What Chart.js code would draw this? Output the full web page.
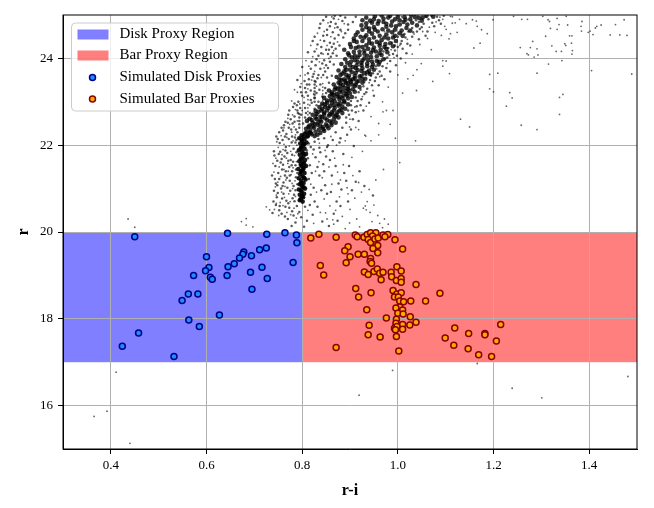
<!DOCTYPE html>
<html lang="en">
<head>
<meta charset="UTF-8">
<title>r vs r-i</title>
<script src="https://cdn.jsdelivr.net/npm/chart.js"></script>
<style>
  body { margin: 0; background: #fff; }
  #wrap { width: 654px; height: 508px; }
</style>
</head>
<body>
<div id="wrap"><canvas id="cmd" width="654" height="508"></canvas></div>
<script>
// axis ticks
var xTicks = [0.4, 0.6, 0.8, 1.0, 1.2, 1.4];
var yTicks = [16, 18, 20, 22, 24];

// proxy regions (r-i from/to, r from/to)
var regionLabels = ['Disk Proxy Region', 'Bar Proxy Region'];
var regionRI = [[0.3, 0.8], [0.8, 1.5]];
var regionR = [[17, 20], [17, 20]];

// simulated disk proxies
var diskRI = [0.450,0.644,0.726,0.764,0.788,0.789,0.600,0.678,0.676,0.669,0.694,0.711,0.725,0.658,0.645,0.605,0.598,0.573,0.643,0.692,0.716,0.781,0.608,0.612,0.727,0.695,0.562,0.582,0.549,0.627,0.563,0.585,0.458,0.424,0.532];
var diskR = [19.89,19.97,19.95,19.98,19.93,19.75,19.43,19.54,19.49,19.40,19.45,19.59,19.63,19.27,19.20,19.18,19.11,19.00,19.00,19.07,19.19,19.30,18.96,18.91,18.93,18.68,18.57,18.57,18.42,18.09,17.97,17.82,17.67,17.37,17.13];

// simulated bar proxies
var barRI = [0.818,0.835,0.871,0.911,0.915,0.929,0.936,0.943,0.954,0.947,0.938,0.943,0.952,0.959,0.969,0.979,0.973,0.994,0.958,0.948,0.896,0.889,0.958,1.010,0.900,0.917,0.930,0.943,0.942,0.945,0.892,0.838,0.845,0.930,0.938,0.950,0.957,0.962,0.969,0.965,0.986,0.987,0.998,1.007,0.997,1.007,1.007,1.038,0.912,0.944,0.918,0.990,0.998,1.007,0.993,1.001,1.004,1.012,1.027,1.058,1.088,1.004,0.996,1.010,1.000,1.011,1.026,0.935,0.976,0.997,0.996,1.038,1.025,1.010,0.940,0.993,0.998,1.010,0.995,0.938,0.963,0.997,0.871,1.002,1.119,1.099,1.148,1.182,1.182,1.215,1.206,1.117,1.147,1.169,1.196];
var barR = [19.86,19.95,19.88,19.93,19.89,19.88,19.94,19.98,19.98,19.91,19.83,19.76,19.84,19.86,19.93,19.94,19.89,19.82,19.69,19.62,19.66,19.57,19.52,19.61,19.43,19.49,19.49,19.39,19.32,19.28,19.29,19.23,19.01,19.08,19.02,19.09,19.15,19.05,19.07,18.90,19.07,18.97,19.20,19.10,18.88,18.93,18.84,18.79,18.70,18.60,18.50,18.65,18.57,18.60,18.50,18.50,18.41,18.39,18.41,18.41,18.59,18.27,18.25,18.20,18.13,18.11,18.05,18.21,18.02,17.99,17.90,17.92,17.86,17.87,17.85,17.78,17.82,17.76,17.75,17.63,17.58,17.59,17.34,17.26,17.79,17.56,17.66,17.66,17.63,17.87,17.49,17.39,17.31,17.17,17.13];

// observed stars: the narrow vertical core near r-i = 0.8
var bgCore = [[0.797,20.76],[0.802,20.80],[0.795,20.86],[0.804,20.88],[0.799,20.93],[0.793,20.98],[0.806,21.00],[0.800,21.05],[0.795,21.10],[0.803,21.13],[0.798,21.18],[0.807,21.21],[0.793,21.24],[0.801,21.28],[0.796,21.33],[0.805,21.36],[0.799,21.41],[0.792,21.45],[0.803,21.48],[0.808,21.52],[0.797,21.55],[0.801,21.60],[0.794,21.63],[0.806,21.66],[0.799,21.70],[0.803,21.75],[0.795,21.78],[0.808,21.80],[0.800,21.85],[0.793,21.88],[0.805,21.92],[0.798,21.95],[0.802,22.00],[0.796,22.04],[0.809,22.06],[0.800,22.10],[0.805,22.14],[0.794,22.16],[0.811,22.20],[0.799,22.23],[0.806,22.27],[0.815,22.29],
[0.800,20.83],[0.797,20.96],[0.803,21.03],[0.798,21.12],[0.804,21.25],[0.797,21.38],[0.802,21.44],[0.799,21.52],[0.804,21.58],[0.797,21.68],[0.802,21.81],[0.797,21.92],[0.804,22.03],[0.799,22.13],[0.803,22.20],[0.795,20.73],[0.801,20.70]];

// observed stars: the dense diagonal band
var bgBand = [
[0.812,22.22],[0.820,22.25],[0.828,22.31],[0.817,22.35],[0.835,22.36],[0.808,22.38],[0.825,22.40],[0.843,22.42],[0.815,22.45],[0.832,22.47],[0.850,22.48],[0.822,22.52],[0.840,22.54],[0.858,22.55],[0.810,22.56],[0.830,22.60],[0.848,22.62],[0.866,22.60],
[0.838,22.66],[0.856,22.68],[0.822,22.70],[0.846,22.72],[0.872,22.70],[0.862,22.76],[0.834,22.77],[0.852,22.80],[0.878,22.80],[0.842,22.84],[0.868,22.86],[0.858,22.90],[0.884,22.89],[0.848,22.94],[0.874,22.95],[0.862,22.98],[0.888,22.99],
[0.852,23.03],[0.878,23.05],[0.866,23.08],[0.896,23.08],[0.858,23.13],[0.886,23.14],[0.872,23.18],[0.900,23.19],[0.862,23.22],[0.892,23.24],[0.880,23.28],[0.906,23.29],[0.870,23.33],[0.896,23.35],[0.886,23.39],[0.912,23.40],[0.876,23.44],[0.902,23.46],[0.918,23.48],
[0.888,23.52],[0.910,23.54],[0.872,23.57],[0.898,23.60],[0.924,23.60],[0.884,23.65],[0.912,23.67],[0.936,23.68],[0.876,23.72],[0.900,23.74],[0.926,23.77],[0.890,23.80],[0.946,23.80],[0.914,23.84],[0.882,23.87],[0.936,23.88],[0.902,23.92],[0.926,23.95],[0.956,23.94],[0.890,23.98],
[0.916,24.02],[0.944,24.03],[0.898,24.07],[0.966,24.08],[0.930,24.11],[0.908,24.15],[0.954,24.16],[0.888,24.20],[0.938,24.22],[0.976,24.22],[0.918,24.27],[0.962,24.29],[0.900,24.33],[0.946,24.34],[0.984,24.35],[0.926,24.40],[0.966,24.42],[0.908,24.46],[0.950,24.48],[0.990,24.48],
[0.934,24.53],[0.976,24.55],[1.004,24.58],[0.916,24.60],[0.958,24.62],[0.994,24.66],[0.940,24.69],[1.018,24.70],[0.976,24.73],[0.924,24.76],[1.004,24.78],[0.958,24.80],[1.030,24.82],[0.988,24.85],[0.942,24.87],[1.016,24.89],[0.970,24.92],[1.044,24.93],[1.000,24.96],[0.952,24.97],[1.060,24.98],[1.028,24.99],
[0.826,22.21],[0.838,22.28],[0.809,22.30],[0.846,22.33],[0.855,22.39],[0.813,22.42],[0.838,22.44],[0.861,22.46],[0.826,22.49],[0.870,22.52],[0.816,22.61],[0.838,22.58],[0.876,22.64],[0.828,22.64],[0.864,22.70],[0.846,22.75],[0.884,22.74],[0.828,22.79],[0.866,22.80],[0.855,22.86],[0.890,22.84],[0.836,22.88],[0.876,22.91],[0.896,22.94],[0.852,22.98],
[0.868,23.01],[0.888,23.02],[0.846,23.09],[0.904,23.11],[0.878,23.12],[0.866,23.16],[0.892,23.18],[0.910,23.23],[0.856,23.26],[0.884,23.23],[0.868,23.28],[0.896,23.30],[0.920,23.34],[0.880,23.36],[0.904,23.40],[0.866,23.40],[0.892,23.44],[0.926,23.44],[0.882,23.50],[0.900,23.50],[0.932,23.53],[0.896,23.56],[0.920,23.58],[0.880,23.62],[0.942,23.64],[0.904,23.68],[0.924,23.71],[0.892,23.74],[0.950,23.74],[0.912,23.78],[0.936,23.82],[0.900,23.84],[0.960,23.86],[0.924,23.90],[0.946,23.93],[0.910,23.96],[0.970,23.98],
[0.930,24.00],[0.904,24.02],[0.956,24.05],[0.920,24.08],[0.944,24.13],[0.978,24.14],[0.896,24.12],[0.930,24.18],[0.964,24.20],[0.912,24.24],[0.950,24.25],[0.990,24.28],[0.934,24.30],[0.974,24.33],[0.914,24.38],[0.956,24.38],[0.996,24.40],[0.940,24.44],[0.980,24.46],[0.922,24.50],[0.962,24.52],[1.010,24.52],[0.946,24.57],[0.988,24.60],[0.926,24.66],[0.968,24.67],[1.026,24.64],[0.950,24.72],[0.996,24.74],[1.040,24.76],[0.934,24.81],[0.976,24.80],[1.012,24.84],[0.960,24.86],[1.050,24.87],[0.994,24.90],[0.934,24.94],[0.984,24.98],[1.036,24.95],[1.074,24.96],[0.966,24.99],[1.014,24.95],
[0.818,22.28],[0.832,22.24],[0.844,22.37],[0.822,22.43],[0.852,22.44],[0.834,22.53],[0.862,22.52],[0.820,22.58],[0.852,22.58],[0.842,22.65],[0.870,22.66],[0.830,22.72],[0.858,22.72],[0.840,22.80],[0.874,22.76],[0.848,22.88],[0.882,22.82],[0.866,22.92],[0.842,22.96],[0.880,22.96],
[0.860,23.04],[0.884,23.08],[0.874,23.12],[0.894,23.14],[0.862,23.18],[0.878,23.22],[0.898,23.26],[0.874,23.30],[0.888,23.32],[0.910,23.36],[0.880,23.42],[0.896,23.42],[0.914,23.46],[0.890,23.48],[0.906,23.52],[0.878,23.52],[0.926,23.52],[0.892,23.62],[0.910,23.60],[0.930,23.66],[0.888,23.70],[0.916,23.73],[0.940,23.72],[0.906,23.80],[0.924,23.84],[0.948,23.86],[0.894,23.90],[0.916,23.92],[0.938,23.96],[0.962,23.92],
[0.910,24.06],[0.936,24.06],[0.962,24.12],[0.920,24.16],[0.948,24.19],[0.902,24.26],[0.926,24.26],[0.972,24.26],[0.940,24.36],[0.962,24.35],[0.908,24.40],[0.930,24.48],[0.972,24.48],[0.994,24.52],[0.912,24.54],[0.940,24.62],[0.980,24.64],[1.008,24.64],[0.952,24.66],[0.934,24.72],[0.986,24.76],[1.020,24.78],[0.946,24.82],[0.970,24.84],[1.026,24.90],[0.950,24.90],[1.004,24.88],[0.926,24.88],[1.052,24.94],[0.980,24.94]
];

// observed stars: medium-density halo around the band and the core
var bgHalo = [
[0.738,20.44],[0.745,20.62],[0.752,20.50],[0.758,20.77],[0.765,20.58],[0.771,20.66],[0.779,20.48],[0.784,20.71],[0.789,20.60],[0.741,20.95],[0.748,21.08],[0.756,21.00],[0.761,21.14],[0.769,21.02],[0.774,21.18],[0.782,21.06],[0.787,21.26],[0.743,21.22],[0.750,21.36],[0.758,21.44],[0.764,21.30],[0.773,21.50],[0.779,21.40],[0.786,21.54],[0.790,21.36],[0.744,21.52],[0.748,21.64],[0.755,21.60],[0.763,21.74],[0.769,21.82],[0.776,21.66],[0.782,21.92],[0.788,21.84],[0.741,21.86],[0.753,22.05],[0.759,22.12],[0.766,21.96],[0.772,22.14],[0.778,22.06],[0.785,22.18],[0.790,22.30],[0.752,22.30],[0.760,22.34],[0.767,22.26],[0.772,22.40],[0.780,22.50],[0.787,22.36],[0.765,22.54],[0.776,22.60],[0.784,22.66],[0.791,22.74],[0.773,22.80],[0.781,22.88],[0.789,22.92],[0.764,20.36],[0.770,20.30],[0.782,20.38],[0.757,20.42],[0.749,20.90],[0.737,21.30],[0.760,21.55],[0.768,21.25],[0.775,20.95],[0.783,20.86],[0.790,21.10],[0.754,21.85],[0.746,22.20],[0.762,22.46],[0.771,22.70],[0.779,22.20],
[0.740,20.70],[0.747,20.80],[0.753,20.60],[0.761,20.88],[0.767,20.72],[0.773,20.56],[0.780,20.78],[0.786,20.96],[0.745,21.12],[0.752,21.22],[0.759,21.06],[0.766,21.40],[0.774,21.30],[0.781,21.62],[0.787,21.44],[0.742,21.76],[0.751,21.80],[0.757,21.68],[0.765,21.88],[0.771,21.64],[0.779,21.78],[0.786,22.06],[0.749,22.14],[0.757,22.40],[0.764,22.20],[0.770,22.52],[0.777,22.36],[0.784,22.54],[0.788,22.12],[0.778,21.54],
[0.792,23.00],[0.800,23.14],[0.808,23.22],[0.796,23.34],[0.805,23.48],[0.815,23.40],[0.822,23.58],[0.812,23.66],[0.828,23.46],[0.834,23.62],[0.818,23.76],[0.828,23.84],[0.838,23.76],[0.846,23.96],[0.834,24.06],[0.826,24.16],[0.840,24.26],[0.850,24.20],[0.846,24.40],[0.858,24.36],[0.852,24.54],[0.864,24.60],[0.858,24.74],[0.870,24.80],[0.866,24.92],[0.880,24.98],[0.890,24.94],[0.884,24.86],[0.896,24.78],[0.876,24.54],[0.868,24.46],[0.862,24.26],[0.854,24.10],[0.848,23.70],[0.836,23.28],[0.826,23.10],[0.820,22.98],[0.806,22.86],[0.798,22.70],[0.806,22.64],[0.816,22.74],[0.826,22.84],[0.834,23.00],[0.850,23.20],[0.856,23.44],[0.862,23.60],[0.866,23.86],[0.872,24.06],[0.878,24.30],[0.886,24.48],[0.896,24.66],[0.906,24.84],[0.912,24.96],[0.800,23.80],[0.812,24.14],[0.822,24.40],[0.836,24.70],[0.844,24.88],[0.790,23.50],[0.784,22.96],[0.802,22.50],[0.818,22.48],[0.830,22.70],[0.842,23.12],[0.852,23.56],[0.858,23.92],[0.864,24.12],
[0.796,22.86],[0.804,22.98],[0.812,23.14],[0.818,23.26],[0.806,23.32],[0.814,23.52],[0.824,23.64],[0.832,23.54],[0.838,23.40],[0.830,23.20],[0.818,23.04],[0.808,22.74],[0.790,22.80],[0.798,23.22],[0.810,23.40],[0.820,23.92],[0.830,23.98],[0.840,24.12],[0.832,24.32],[0.844,24.52],[0.852,24.66],[0.860,24.84],[0.868,24.98],[0.874,24.72],[0.866,24.34],[0.856,24.20],[0.850,23.84],[0.842,23.88],[0.826,24.50],[0.838,24.80],[0.850,24.96],[0.880,24.66],[0.890,24.58],[0.870,24.22],[0.860,24.04],[0.854,23.78],[0.844,23.62],[0.848,23.32],[0.840,22.92],[0.830,22.92],
[0.826,23.00],[0.826,23.08],[0.826,23.16],[0.826,23.24],[0.826,23.32],[0.826,23.40],[0.826,23.48],[0.794,22.40],[0.794,22.48],[0.794,22.56],[0.794,22.64],[0.794,22.72],
[0.884,22.40],[0.892,22.52],[0.898,22.70],[0.906,22.60],[0.912,22.76],[0.902,22.92],[0.916,23.02],[0.922,22.92],[0.930,23.18],[0.918,23.22],[0.928,23.36],[0.936,23.30],[0.942,23.50],[0.934,23.62],[0.948,23.66],[0.954,23.56],[0.962,23.70],[0.968,23.82],[0.958,23.94],[0.974,24.00],[0.982,24.08],[0.970,24.16],[0.994,24.18],[1.000,24.26],[0.988,24.36],[1.008,24.40],[1.014,24.56],[1.000,24.50],[1.022,24.62],[1.030,24.70],[1.046,24.68],[1.054,24.80],[1.038,24.88],[1.064,24.90],[1.072,24.82],[1.082,24.96],[1.090,24.80],[1.058,24.52],[1.044,24.44],[1.026,24.30],[1.018,24.12],[1.006,24.00],[0.996,23.84],[0.984,23.70],[0.972,23.52],[0.960,23.38],[0.950,23.14],[0.940,22.98],[0.928,22.80],[0.918,22.56],[0.902,22.36],[0.894,22.24],[0.880,22.16],[0.870,22.30],[0.864,22.12],[0.854,22.00],[0.846,22.16],[0.836,21.94],[0.826,22.08],[0.818,21.96],
[0.892,22.64],[0.904,22.80],[0.914,22.90],[0.924,23.06],[0.934,23.22],[0.946,23.38],[0.952,23.48],[0.944,23.60],[0.958,23.64],[0.966,23.60],[0.976,23.78],[0.984,23.94],[0.990,24.10],[0.998,24.06],[1.010,24.22],[1.020,24.34],[1.030,24.50],[1.040,24.62],[1.050,24.72],[1.062,24.62],[1.076,24.74],[1.086,24.88],[1.096,24.98],[1.070,24.98],[1.058,24.96],[1.044,24.84],[1.032,24.60],[1.016,24.48],[1.006,24.34],[0.994,24.30],[0.980,24.24],[0.978,24.02],[0.966,23.94],[0.954,23.82],[0.940,23.66],[0.930,23.46],[0.922,23.28],[0.912,23.10],[0.902,23.02],[0.896,22.80],
[0.812,21.70],[0.816,21.54],[0.820,21.36],[0.814,21.22],[0.824,21.02],[0.818,20.86],[0.826,20.70],[0.832,21.50],[0.828,21.72],[0.838,21.84],[0.844,21.56],[0.836,21.30],[0.848,21.08],[0.840,20.96],[0.852,20.88],[0.846,21.40],[0.858,21.66],[0.864,21.86],[0.852,21.96],[0.870,21.52],[0.876,21.12],[0.860,20.92],[0.882,20.98],[0.888,21.36],[0.872,20.70],[0.866,20.42],[0.880,20.60],[0.896,20.70],[0.904,20.96],[0.912,21.16],[0.898,21.52],[0.886,21.80],[0.908,21.98],[0.878,22.06],[0.816,20.62],[0.822,20.40],[0.832,20.58],[0.842,20.24],[0.856,20.14],[0.874,20.26],[0.810,21.88],[0.814,22.04],[0.824,21.90],[0.834,22.14],[0.850,21.74],[0.862,21.30],[0.892,21.18],[0.920,21.40],[0.930,21.06],[0.948,20.84],
[0.786,20.22],[0.794,20.46],[0.806,20.58],[0.798,20.34],[0.810,20.26],[0.778,20.14],[0.804,20.12]
];

// observed stars: scattered field
var bgSparse = [
[0.742,20.52],[0.751,20.38],[0.760,20.61],[0.768,20.45],[0.775,20.70],[0.783,20.55],[0.746,20.85],[0.757,20.92],[0.764,21.05],[0.772,20.88],[0.780,21.00],[0.786,20.82],[0.749,21.15],[0.755,21.28],[0.766,21.20],[0.777,21.32],[0.785,21.18],[0.741,21.38],[0.752,21.50],[0.762,21.44],[0.770,21.58],[0.781,21.48],[0.788,21.62],[0.745,21.70],[0.758,21.78],[0.767,21.70],[0.776,21.86],[0.784,21.76],[0.750,21.95],[0.762,22.02],[0.773,21.98],[0.781,22.10],[0.789,22.00],[0.756,22.22],[0.768,22.18],[0.778,22.30],[0.786,22.24],[0.762,22.40],[0.774,22.48],[0.783,22.42],[0.790,22.56],[0.770,22.62],[0.780,22.70],[0.791,20.42],[0.788,20.32],[0.776,20.40],[0.754,20.68],[0.744,21.04],[0.739,21.58],[0.747,22.08],[0.760,21.90],[0.771,21.40],[0.779,21.12],[0.763,20.80],
[0.786,22.82],[0.795,22.95],[0.778,23.02],[0.804,23.10],[0.790,23.22],[0.812,23.30],[0.798,23.42],[0.820,23.50],[0.806,23.62],[0.826,23.70],[0.814,23.82],[0.836,23.92],[0.822,24.04],[0.844,24.10],[0.830,24.22],[0.852,24.30],[0.838,24.42],[0.860,24.50],[0.846,24.62],[0.868,24.70],[0.854,24.82],[0.876,24.90],[0.862,24.96],[0.800,22.80],[0.816,22.92],[0.812,23.05],[0.824,23.18],[0.830,23.36],[0.840,23.56],[0.846,23.78],[0.856,24.00],[0.866,24.18],[0.874,24.38],[0.882,24.62],[0.888,24.80],[0.832,24.58],[0.818,24.30],[0.808,23.95],[0.796,23.60],[0.784,23.28],
[0.812,22.55],[0.812,22.62],[0.812,22.70],[0.812,22.78],[0.812,22.86],[0.812,22.94],[0.843,22.95],[0.843,23.03],[0.843,23.10],[0.843,23.18],[0.843,23.26],[0.843,23.34],[0.843,23.42],
[0.822,21.80],[0.835,21.62],[0.848,21.88],[0.828,21.40],[0.842,21.25],[0.856,21.50],[0.868,21.70],[0.874,21.38],[0.886,21.55],[0.862,21.10],[0.880,21.20],[0.894,21.02],[0.906,21.30],[0.918,21.14],[0.896,20.88],[0.910,20.78],[0.924,20.92],[0.936,20.70],[0.928,20.55],[0.942,20.45],[0.950,20.62],[0.958,20.38],[0.946,20.24],[0.962,20.20],[0.972,20.30],[0.968,20.10],[0.980,20.18],[0.818,21.10],[0.830,20.92],[0.846,20.76],[0.858,20.60],[0.838,20.45],[0.852,20.30],[0.870,20.50],[0.884,20.36],[0.866,20.18],[0.900,20.52],[0.914,20.30],[0.890,20.08],[0.920,20.12],[0.940,20.98],[0.954,21.20],[0.970,21.44],[0.904,21.72],[0.926,21.86],[0.944,22.10],[0.960,22.24],[0.890,22.10],[0.872,22.00],[0.918,22.36],[0.984,22.48],[0.995,22.16],[0.824,20.20],[0.812,20.50],[0.836,22.05],[0.860,22.20],[0.931,22.23],[1.004,21.60],[1.037,22.10],
[0.899,20.21],[0.864,20.28],[0.849,20.44],[0.934,20.51],[0.932,20.60],[0.878,20.81],
[0.900,22.60],[0.918,22.78],[0.934,22.90],[0.926,23.12],[0.948,23.26],[0.940,23.44],[0.962,23.58],[0.956,23.76],[0.978,23.88],[0.992,24.02],[0.986,24.20],[1.004,24.30],[1.020,24.44],[1.034,24.56],[1.052,24.62],[1.066,24.72],[1.080,24.84],[1.094,24.90],[1.110,24.97],[0.910,22.88],[0.944,22.66],[0.968,23.00],[0.980,23.34],[1.000,23.62],[1.016,23.90],[1.030,24.10],[1.046,24.32],[1.062,24.46],[1.078,24.60],[1.098,24.74],[0.960,22.50],[0.990,22.80],[1.010,23.20],[1.040,23.74],[1.070,24.20],[0.972,24.62],[1.008,24.96],[1.120,24.82],[1.042,24.98],
[1.049,23.88],[1.073,23.47],[1.032,23.61],[1.039,23.26],[0.969,22.77],[0.976,22.80],[0.933,22.21],[0.912,22.41],[0.899,22.42],[1.021,23.53],[1.094,23.95],[1.108,23.65],
[1.101,23.94],[1.094,23.82],[1.192,23.63],[1.209,23.66],[1.192,23.30],[1.200,23.23],[1.131,22.60],[1.150,22.42],[1.234,23.21],[1.239,23.09],[1.227,22.90],[1.258,22.46],[1.291,22.36],[1.291,23.66],[1.315,23.87],[1.343,23.95],[1.338,23.10],[1.345,23.17],[1.338,22.71],[1.405,23.72],[1.489,23.64],
[1.088,24.95],[1.114,24.96],[1.129,24.90],[1.101,24.67],[1.114,24.81],[1.124,24.60],[1.110,24.57],[1.107,24.45],[1.091,24.53],[1.143,24.80],[1.156,24.89],[1.164,24.86],[1.166,24.74],[1.175,24.66],[1.187,24.57],[1.199,24.89],[1.172,24.35],[1.159,24.24],[1.242,24.97],[1.259,24.90],[1.271,24.90],[1.303,24.97],[1.314,24.89],[1.317,24.85],[1.333,24.92],[1.337,24.78],[1.319,24.69],[1.333,24.67],[1.355,24.77],[1.352,24.97],[1.309,24.51],[1.282,24.39],[1.256,24.25],[1.277,24.25],[1.291,24.22],[1.270,24.11],[1.273,24.08],[1.285,24.03],[1.293,24.08],[1.322,24.29],[1.331,24.16],[1.342,24.16],[1.349,24.34],[1.351,24.30],[1.363,24.35],[1.365,24.18],[1.364,24.10],[1.359,24.52],[1.364,24.52],[1.385,24.85],[1.383,24.74],[1.384,24.63],[1.398,24.60],[1.402,24.63],[1.408,24.55],[1.413,24.70],[1.416,24.74],[1.425,24.77],[1.455,24.78],[1.473,24.89],[1.444,24.54],[1.464,24.54],[1.479,24.53],
[0.436,20.30],[0.450,20.11],[0.673,20.24],[0.683,20.31],[0.683,20.16],[0.697,20.12],[0.725,20.58],[0.732,20.51],[0.746,20.66],
[0.411,16.77],[0.365,15.75],[0.392,15.87],[0.440,15.13],[0.919,16.24],[0.989,16.81],[1.166,16.97],[1.239,16.40],[1.301,16.18],[1.481,16.67]
];

var regionColors = ['rgba(0,0,255,0.5)', 'rgba(255,0,0,0.5)'];
var serif = "'Liberation Serif', 'DejaVu Serif', serif";

function toPts(list) {
  return list.map(function (p) { return { x: p[0], y: p[1] }; });
}
function zipPts(xs, ys) {
  return xs.map(function (v, i) { return { x: v, y: ys[i] }; });
}

// shaded proxy regions, drawn under the grid
var regionPlugin = {
  id: 'regions',
  beforeDraw: function (chart) {
    var ctx = chart.ctx, sx = chart.scales.x, sy = chart.scales.y;
    ctx.save();
    for (var i = 0; i < regionLabels.length; i++) {
      var x1 = sx.getPixelForValue(regionRI[i][0]);
      var x2 = sx.getPixelForValue(regionRI[i][1]);
      var y1 = sy.getPixelForValue(regionR[i][1]);
      var y2 = sy.getPixelForValue(regionR[i][0]);
      ctx.fillStyle = regionColors[i];
      ctx.fillRect(x1, y1, x2 - x1, y2 - y1);
    }
    ctx.restore();
  }
};

// full box around the axes + matplotlib-like legend
var framePlugin = {
  id: 'frame',
  afterDraw: function (chart) {
    var ctx = chart.ctx, a = chart.chartArea;
    ctx.save();
    ctx.strokeStyle = '#000';
    ctx.lineWidth = 1;
    ctx.strokeRect(a.left, a.top, a.right - a.left, a.bottom - a.top);

    var x0 = a.left + 8.5, y0 = a.top + 8;
    ctx.beginPath();
    ctx.roundRect(x0, y0, 207, 88, 4);
    ctx.fillStyle = 'rgba(255,255,255,0.8)';
    ctx.fill();
    ctx.strokeStyle = '#cccccc';
    ctx.stroke();

    var rows = [11.5, 32.5, 54.5, 76];
    ctx.font = '15px ' + serif;
    ctx.textBaseline = 'middle';
    ctx.textAlign = 'left';
    for (var i = 0; i < 2; i++) {
      ctx.fillStyle = regionColors[i];
      ctx.fillRect(x0 + 6, y0 + rows[i] - 5, 31, 10);
      ctx.fillStyle = '#000';
      ctx.fillText(regionLabels[i], x0 + 48, y0 + rows[i]);
    }
    var ds = chart.data.datasets;
    for (var j = 0; j < 2; j++) {
      var d = ds[j];
      ctx.beginPath();
      ctx.arc(x0 + 21, y0 + rows[j + 2], 3, 0, Math.PI * 2);
      ctx.fillStyle = d.backgroundColor;
      ctx.fill();
      ctx.lineWidth = d.borderWidth;
      ctx.strokeStyle = d.borderColor;
      ctx.stroke();
      ctx.fillStyle = '#000';
      ctx.fillText(d.label, x0 + 48, y0 + rows[j + 2]);
    }
    ctx.restore();
  }
};

new Chart(document.getElementById('cmd'), {
  type: 'scatter',
  data: {
    datasets: [
      {
        label: 'Simulated Disk Proxies',
        data: zipPts(diskRI, diskR),
        pointRadius: 3,
        borderWidth: 1.5,
        backgroundColor: '#1e8cff',
        borderColor: '#00008b',
        order: 0
      },
      {
        label: 'Simulated Bar Proxies',
        data: zipPts(barRI, barR),
        pointRadius: 3,
        borderWidth: 1.5,
        backgroundColor: '#ffaa00',
        borderColor: '#8b0000',
        order: 1
      },
      {
        label: 'core',
        data: toPts(bgCore),
        pointRadius: 2.3,
        borderWidth: 0,
        backgroundColor: 'rgba(0,0,0,0.9)',
        order: 2
      },
      {
        label: 'band',
        data: toPts(bgBand),
        pointRadius: 2.3,
        borderWidth: 0,
        backgroundColor: 'rgba(0,0,0,0.78)',
        order: 3
      },
      {
        label: 'halo',
        data: toPts(bgHalo),
        pointRadius: 1.25,
        borderWidth: 0,
        backgroundColor: 'rgba(0,0,0,0.65)',
        order: 4
      },
      {
        label: 'field',
        data: toPts(bgSparse),
        pointRadius: 0.9,
        borderWidth: 0,
        backgroundColor: 'rgba(0,0,0,0.6)',
        order: 5
      }
    ]
  },
  options: {
    responsive: false,
    animation: false,
    layout: { padding: { left: 0, right: 17, top: 15, bottom: 0 } },
    plugins: {
      legend: { display: false },
      tooltip: { enabled: false }
    },
    scales: {
      x: {
        type: 'linear',
        min: 0.3,
        max: 1.5,
        afterBuildTicks: function (s) { s.ticks = xTicks.map(function (v) { return { value: v }; }); },
        afterFit: function (s) { s.height = 59; },
        grid: { color: '#b0b0b0', lineWidth: 1, tickColor: '#000', tickLength: 5 },
        border: { color: '#000' },
        ticks: {
          color: '#000',
          padding: 4,
          font: { family: serif, size: 13 },
          callback: function (v) { return Number(v).toFixed(1); }
        },
        title: {
          display: true,
          text: 'r-i',
          color: '#000',
          font: { family: serif, size: 16, weight: 'bold' },
          padding: { top: 0, bottom: 8 }
        }
      },
      y: {
        type: 'linear',
        min: 15,
        max: 25,
        afterBuildTicks: function (s) { s.ticks = yTicks.map(function (v) { return { value: v }; }); },
        afterFit: function (s) { s.width = 63; },
        grid: { color: '#b0b0b0', lineWidth: 1, tickColor: '#000', tickLength: 5 },
        border: { color: '#000' },
        ticks: {
          color: '#000',
          padding: 5,
          font: { family: serif, size: 13 },
          callback: function (v) { return String(v); }
        },
        title: {
          display: true,
          text: 'r',
          color: '#000',
          font: { family: serif, size: 16, weight: 'bold' },
          padding: { top: 14, bottom: 0 }
        }
      }
    }
  },
  plugins: [regionPlugin, framePlugin]
});
</script>
</body>
</html>
